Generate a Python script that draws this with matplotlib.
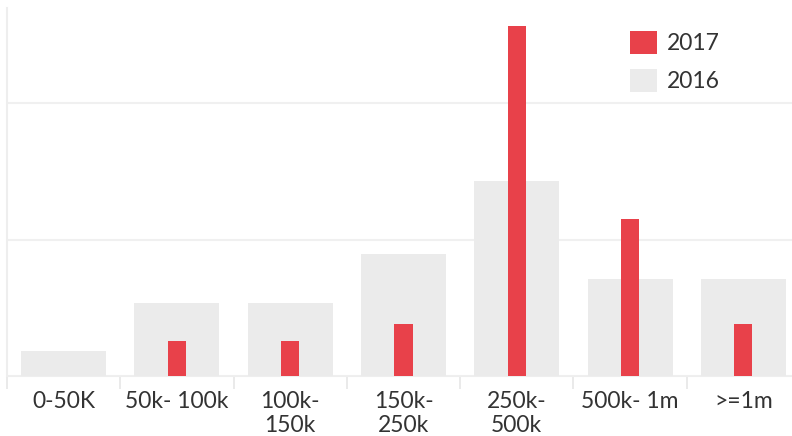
import matplotlib.pyplot as plt
import numpy as np

categories = ['0-50K', '50k- 100k', '100k-\n150k', '150k-\n250k', '250k-\n500k', '500k- 1m', '>=1m']
share_2016 = [3.6, 10.7, 10.7, 17.9, 28.6, 14.3, 14.3]
share_2017 = [0.0, 5.1, 5.1, 7.7, 51.3, 23.1, 7.7]

plt.rcParams['font.family'] = ['Lato', 'DejaVu Sans']

fig = plt.figure(figsize=(7.92, 4.36), dpi=100)
ax = fig.add_axes([7/792, 1 - 376/436, 793/792, 368/436])

x = np.arange(len(categories))
ax.bar(x, share_2016, width=0.75, color='#ebebeb', label='2016', zorder=2)
ax.bar(x, share_2017, width=0.16, color='#e8414a', label='2017', zorder=3)

ax.set_xlim(-0.5, len(categories) - 0.5)
ax.set_ylim(0, 54)
ax.set_yticks([0, 20, 40])
ax.set_yticklabels([])
ax.tick_params(axis='y', length=0)
ax.grid(axis='y', color='#f0f0f0', linewidth=1.5, zorder=0)

ax.set_xticks(x)
ax.set_xticklabels(categories, fontsize=16.5, color='#333333', linespacing=1.15)
ax.tick_params(axis='x', which='major', length=0, pad=11)
ax.set_xticks(np.arange(-0.5, len(categories)), minor=True)
ax.tick_params(axis='x', which='minor', length=9, color='#e6e6e6', width=1.2)

for s in ['top', 'right']:
    ax.spines[s].set_visible(False)
ax.spines['left'].set_color('#eeeeee')
ax.spines['bottom'].set_color('#eeeeee')
ax.spines['left'].set_linewidth(1.5)

handles, labels = ax.get_legend_handles_labels()
ax.legend(handles[::-1], labels[::-1], loc='upper right',
          bbox_to_anchor=(741/792, 1 - 10/436), bbox_transform=fig.transFigure,
          frameon=False, fontsize=16.5, handlelength=1.18, handleheight=1.18,
          labelspacing=0.66, handletextpad=0.44, borderpad=0.4, labelcolor='#333333')

fig.savefig('out.png', dpi=100)
